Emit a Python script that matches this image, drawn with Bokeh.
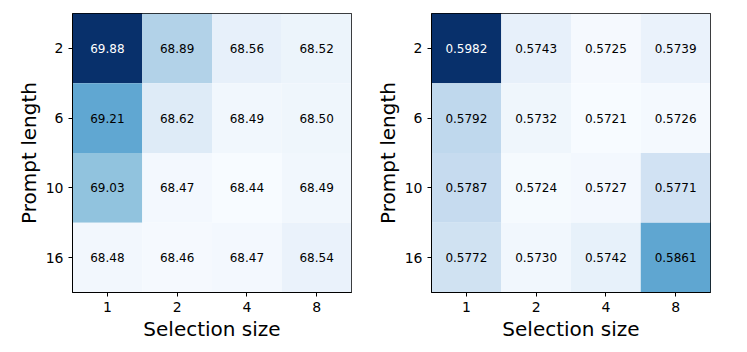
import numpy as np
from bokeh.plotting import figure
from bokeh.layouts import row
from bokeh.models import ColumnDataSource, LinearColorMapper
from bokeh.transform import transform
from bokeh.core.properties import value
from bokeh.embed import file_html
from bokeh.resources import INLINE

# ---- data ----
selection_sizes = ["1", "2", "4", "8"]
prompt_lengths = ["2", "6", "10", "16"]
accuracy = [
    [69.88, 68.89, 68.56, 68.52],
    [69.21, 68.62, 68.49, 68.50],
    [69.03, 68.47, 68.44, 68.49],
    [68.48, 68.46, 68.47, 68.54],
]
score = [
    [0.5982, 0.5743, 0.5725, 0.5739],
    [0.5792, 0.5732, 0.5721, 0.5726],
    [0.5787, 0.5724, 0.5727, 0.5771],
    [0.5772, 0.5730, 0.5742, 0.5861],
]

# ---- matplotlib "Blues" colormap (brewer anchors, light -> dark) ----
anchors = ["#f7fbff", "#deebf7", "#c6dbef", "#9ecae1", "#6baed6",
           "#4292c6", "#2171b5", "#08519c", "#08306b"]
rgb = np.array([[int(c[i:i + 2], 16) for i in (1, 3, 5)] for c in anchors], float)
pos = np.linspace(0, 1, len(anchors))
t = np.linspace(0, 1, 256)
palette = ["#%02x%02x%02x" % tuple(int(round(np.interp(tt, pos, rgb[:, k]))) for k in range(3)) for tt in t]

FONT = "DejaVu Sans"


def make(values, fmt, left, right):
    arr = np.array(values, float)
    lo, hi = arr.min(), arr.max()
    xs, ys, vs, labels, tcol = [], [], [], [], []
    for i, pl in enumerate(prompt_lengths):
        for j, ss in enumerate(selection_sizes):
            v = values[i][j]
            xs.append(ss)
            ys.append(pl)
            vs.append(v)
            labels.append(fmt % v)
            tcol.append("white" if (v - lo) / (hi - lo) > 0.8 else "black")
    src = ColumnDataSource(dict(x=xs, y=ys, v=vs, label=labels, tcol=tcol))
    mapper = LinearColorMapper(palette=palette, low=lo, high=hi)

    p = figure(x_range=selection_sizes, y_range=prompt_lengths[::-1],
               frame_width=279, frame_height=279,
               min_border_left=left, min_border_right=right,
               min_border_top=13, min_border_bottom=50,
               output_backend="svg", toolbar_location=None)
    p.rect(x="x", y="y", width=1, height=1, source=src,
           fill_color=transform("v", mapper), line_color=None)
    p.text(x="x", y="y", text="label", source=src, text_color="tcol",
           text_align="center", text_baseline="middle",
           text_font_size="12px", text_font=value(FONT))

    p.grid.visible = False
    p.outline_line_color = "black"
    p.outline_line_width = 1
    p.background_fill_color = "white"
    p.border_fill_color = "white"
    for ax in (p.xaxis[0], p.yaxis[0]):
        ax.axis_line_color = "black"
        ax.major_tick_line_color = "black"
        ax.major_tick_out = 4
        ax.major_tick_in = 0
        ax.minor_tick_line_color = None
        ax.major_label_text_font = FONT
        ax.major_label_text_font_size = "14px"
        ax.major_label_text_color = "black"
        ax.major_label_standoff = 5
        ax.axis_label_text_font = FONT
        ax.axis_label_text_font_size = "20px"
        ax.axis_label_text_font_style = "normal"
        ax.axis_label_text_color = "black"
        ax.axis_label_standoff = 2
    p.xaxis.axis_label = "Selection size"
    p.yaxis.axis_label = "Prompt length"
    p.x_range.range_padding = 0
    p.y_range.range_padding = 0
    return p


p1 = make(accuracy, "%.2f", 72, 20)
p2 = make(score, "%.4f", 60, 20)
layout = row(p1, p2)

open("out.html", "w").write(file_html(layout, INLINE))
